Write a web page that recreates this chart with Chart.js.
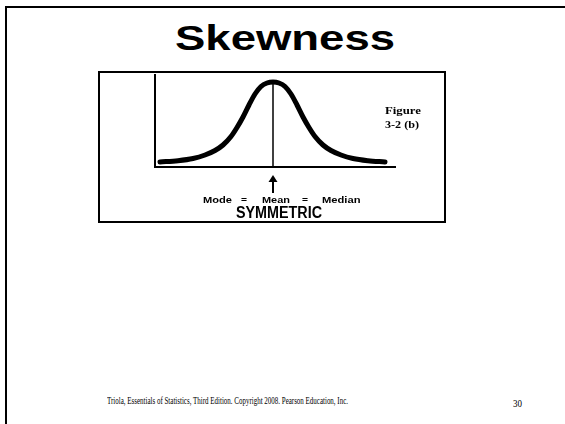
<!DOCTYPE html>
<html>
<head>
<meta charset="utf-8">
<script src="https://cdn.jsdelivr.net/npm/chart.js@4/dist/chart.umd.min.js"></script>
<style>
  html, body { margin: 0; padding: 0; background: #fff; }
  body { width: 565px; height: 424px; position: relative; overflow: hidden; }
  .ln { position: absolute; background: #000; }
  .t { position: absolute; white-space: nowrap; line-height: 1; color: #000; transform-origin: 0 0; }
  #box { position: absolute; left: 98px; top: 71px; width: 344px; height: 148px; border: 2px solid #000; }
  #wrap { position: absolute; left: 98px; top: 72px; width: 347px; height: 150px; }
</style>
</head>
<body>
<div class="ln" style="left:5px;top:6px;width:560px;height:2px"></div>
<div class="ln" style="left:5px;top:6px;width:2px;height:418px"></div>
<div id="box"></div>
<div id="wrap"><canvas id="c" width="347" height="150"></canvas></div>
<script>
// Data (horizontal offset from the centre, height above the axis)
const curveX = [-113, -95, -80, -68, -58, -50, -42, -36, -30, -24, -18, -12, -6, 0, 6, 12, 18, 24, 30, 36, 42, 50, 58, 68, 80, 95, 112];
const curveY = [5, 6.3, 8.5, 12, 16.5, 22, 30.5, 39.5, 50, 62, 73, 80.5, 84, 85, 84, 80.5, 73, 62, 50, 39.5, 30.5, 22, 16.5, 12, 8.5, 6.3, 5];
const centerX = [0, 0];
const centerY = [0, 85];
const xRange = [-118, 122];
const yRange = [0, 92];

const arrowPlugin = {
  id: 'arrow',
  afterDraw(chart) {
    const ctx = chart.ctx;
    const x = chart.scales.x.getPixelForValue(0);
    const y0 = chart.chartArea.bottom + 8;
    ctx.save();
    ctx.fillStyle = '#000';
    ctx.beginPath();
    ctx.moveTo(x, y0);
    ctx.lineTo(x - 4.5, y0 + 7);
    ctx.lineTo(x + 4.5, y0 + 7);
    ctx.closePath();
    ctx.fill();
    ctx.fillRect(x - 1, y0 + 6, 2, 12);
    ctx.restore();
  }
};

new Chart(document.getElementById('c'), {
  type: 'line',
  data: {
    datasets: [
      {
        data: curveX.map((x, i) => ({ x, y: curveY[i] })),
        borderColor: '#000',
        borderWidth: 5,
        borderCapStyle: 'round',
        borderJoinStyle: 'round',
        pointRadius: 0,
        cubicInterpolationMode: 'monotone',
        clip: false
      },
      {
        data: centerX.map((x, i) => ({ x, y: centerY[i] })),
        borderColor: '#000',
        borderWidth: 1.5,
        pointRadius: 0,
        clip: false
      }
    ]
  },
  options: {
    responsive: false,
    animation: false,
    events: [],
    layout: { padding: { left: 57, top: 3, right: 50, bottom: 55 } },
    plugins: { legend: { display: false }, tooltip: { enabled: false } },
    scales: {
      x: {
        type: 'linear', min: xRange[0], max: xRange[1],
        grid: { display: false, drawTicks: false },
        ticks: { display: false },
        border: { display: true, color: '#000', width: 2 }
      },
      y: {
        type: 'linear', min: yRange[0], max: yRange[1],
        grid: { display: false, drawTicks: false },
        ticks: { display: false },
        border: { display: true, color: '#000', width: 2 }
      }
    }
  },
  plugins: [arrowPlugin]
});

// Text placement: fit each string between x0 and x1 with its baseline at y
function place(text, family, weight, size, x0, x1, baseline, ratio) {
  const s = document.createElement('span');
  s.className = 't';
  s.textContent = text;
  s.style.fontFamily = family;
  s.style.fontWeight = weight;
  s.style.fontSize = size + 'px';
  document.body.appendChild(s);
  const w = s.getBoundingClientRect().width;
  s.style.left = x0 + 'px';
  s.style.top = (baseline - ratio * size) + 'px';
  s.style.transform = 'scaleX(' + ((x1 - x0) / w) + ')';
}
const SANS = '"Liberation Sans", Arial, sans-serif';
const SERIF = '"Liberation Serif", "Times New Roman", serif';
place('Skewness', SANS, 'bold', 35, 175, 395, 50, 0.8465);
place('Figure', SERIF, 'bold', 11, 385, 421, 114, 0.8375);
place('3-2 (b)', SERIF, 'bold', 11, 385, 419, 128, 0.8375);
place('Mode', SANS, 'bold', 8.5, 203, 232, 203.5, 0.8465);
place('=', SANS, 'bold', 8.5, 241, 247, 203.5, 0.8465);
place('Mean', SANS, 'bold', 8.5, 262, 290, 203.5, 0.8465);
place('=', SANS, 'bold', 8.5, 302, 308, 203.5, 0.8465);
place('Median', SANS, 'bold', 8.5, 322, 360.5, 203.5, 0.8465);
place('SYMMETRIC', SANS, 'bold', 16, 236, 322, 218.5, 0.8465);
place('Triola, Essentials of Statistics, Third Edition. Copyright  2008.  Pearson Education, Inc.', SERIF, 'normal', 10.5, 107, 348, 404.5, 0.8375);
place('30', SERIF, 'normal', 9.5, 513, 522, 408, 0.8375);
</script>
</body>
</html>
